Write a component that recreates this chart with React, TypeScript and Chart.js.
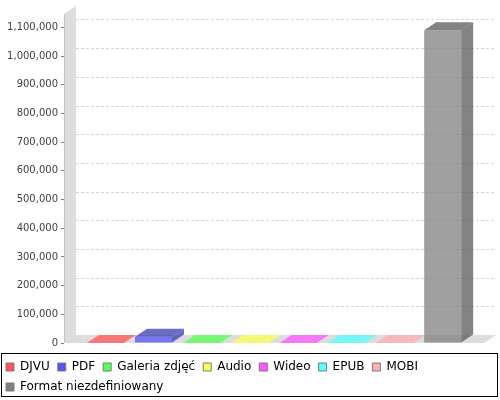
import React, { useEffect, useRef } from "react";
import { Chart, registerables } from "chart.js";

Chart.register(...registerables);

const seriesNames = [
  "DJVU",
  "PDF",
  "Galeria zdjęć",
  "Audio",
  "Wideo",
  "EPUB",
  "MOBI",
  "Format niezdefiniowany",
];
const seriesValues = [0, 22000, 0, 0, 0, 0, 0, 1090000];
const seriesColors = [
  "#FF5555",
  "#5555FF",
  "#55FF55",
  "#FFFF55",
  "#FF55FF",
  "#55FFFF",
  "#FFAFAF",
  "#808080",
];
const yTickValues = [0, 100000, 200000, 300000, 400000, 500000, 600000, 700000, 800000, 900000, 1000000, 1100000];
const yMin = 0;
const yMax = 1147000;

const DX = 12;
const DY = 8;
const ALPHA = 0.75;

function rgb(hex: string): [number, number, number] {
  const h = hex.replace("#", "");
  return [parseInt(h.slice(0, 2), 16), parseInt(h.slice(2, 4), 16), parseInt(h.slice(4, 6), 16)];
}
function rgba(c: [number, number, number], a: number) {
  return `rgba(${c[0]},${c[1]},${c[2]},${a})`;
}
function darker(c: [number, number, number]): [number, number, number] {
  return [Math.floor(c[0] * 0.7), Math.floor(c[1] * 0.7), Math.floor(c[2] * 0.7)];
}

function poly(ctx: CanvasRenderingContext2D, pts: number[][], fill: string) {
  ctx.beginPath();
  ctx.moveTo(pts[0][0], pts[0][1]);
  for (let i = 1; i < pts.length; i++) ctx.lineTo(pts[i][0], pts[i][1]);
  ctx.closePath();
  ctx.fillStyle = fill;
  ctx.fill();
}

const threeD = {
  id: "threeD",
  beforeDraw(chart: any) {
    const { ctx, width, height } = chart;
    ctx.save();
    ctx.fillStyle = "#ffffff";
    ctx.fillRect(0, 0, width, height);
    ctx.restore();
  },
  beforeDatasetsDraw(chart: any) {
    const { ctx, chartArea: a, scales } = chart;
    const y = scales.y;
    ctx.save();
    // back gridlines
    ctx.strokeStyle = "#d4d4d4";
    ctx.lineWidth = 1;
    ctx.setLineDash([3, 2]);
    y.ticks.forEach((t: any) => {
      if (t.value === 0) return;
      const py = Math.round(y.getPixelForValue(t.value)) - DY + 0.5;
      ctx.beginPath();
      ctx.moveTo(a.left + DX, py);
      ctx.lineTo(a.right + DX, py);
      ctx.stroke();
    });
    ctx.setLineDash([]);
    // wall
    poly(
      ctx,
      [
        [a.left, a.top],
        [a.left + DX, a.top - DY],
        [a.left + DX, a.bottom - DY],
        [a.left, a.bottom],
      ],
      "#dddddd"
    );
    ctx.strokeStyle = "#c4c4c4";
    ctx.beginPath();
    ctx.moveTo(a.left + 0.5, a.top);
    ctx.lineTo(a.left + 0.5, a.bottom);
    ctx.stroke();
    // floor
    poly(
      ctx,
      [
        [a.left, a.bottom],
        [a.right, a.bottom],
        [a.right + DX, a.bottom - DY],
        [a.left + DX, a.bottom - DY],
      ],
      "#dcdcdc"
    );
    ctx.restore();
  },
  afterDatasetsDraw(chart: any) {
    const { ctx } = chart;
    ctx.save();
    chart.data.datasets.forEach((ds: any, i: number) => {
      const meta = chart.getDatasetMeta(i);
      const c = rgb(seriesColors[i]);
      const face = rgba(c, ALPHA);
      const dark = rgba(darker(c), ALPHA);
      meta.data.forEach((el: any) => {
        const x = el.x;
        const top = el.y;
        const base = el.base;
        const w = el.width;
        const l = x - w / 2;
        const r = x + w / 2;
        const flat = Math.abs(base - top) < 1;
        if (!flat) {
          poly(
            ctx,
            [
              [r, top],
              [r + DX, top - DY],
              [r + DX, base - DY],
              [r, base],
            ],
            dark
          );
        }
        poly(
          ctx,
          [
            [l, top],
            [l + DX, top - DY],
            [r + DX, top - DY],
            [r, top],
          ],
          flat ? face : dark
        );
      });
    });
    ctx.restore();
  },
  afterDraw(chart: any) {
    const { ctx } = chart;
    const lg = chart.legend;
    if (!lg) return;
    ctx.save();
    ctx.strokeStyle = "#000000";
    ctx.lineWidth = 1;
    ctx.strokeRect(1.5, lg.top + 0.5, 496, 43);
    ctx.restore();
  },
};

export default function App() {
  const ref = useRef<HTMLCanvasElement | null>(null);
  useEffect(() => {
    document.body.style.margin = "0";
    if (!ref.current) return;
    const chart = new Chart(ref.current, {
      type: "bar",
      data: {
        labels: [""],
        datasets: seriesNames.map((name, i) => ({
          label: name,
          data: [seriesValues[i]],
          backgroundColor: rgba(rgb(seriesColors[i]), ALPHA),
          borderWidth: 0,
          categoryPercentage: 0.918,
          barPercentage: 0.768,
        })),
      },
      options: {
        responsive: false,
        animation: false,
        events: [],
        layout: { padding: { top: 14, left: -2, right: 16, bottom: -3 } },
        scales: {
          x: {
            type: "category",
            display: true,
            grid: { display: false },
            border: { display: false },
            ticks: { display: false },
            afterFit: (s: any) => {
              s.height = 10;
            },
          },
          y: {
            min: yMin,
            max: yMax,
            border: { display: false },
            grid: {
              display: true,
              drawOnChartArea: false,
              drawTicks: true,
              tickLength: 3,
              tickColor: "#808080",
            },
            afterBuildTicks: (s: any) => {
              s.ticks = yTickValues.map((v) => ({ value: v }));
            },
            ticks: {
              padding: 3,
              color: "#404040",
              font: { family: "DejaVu Sans", size: 10 },
              callback: (v: any) => Number(v).toLocaleString("en-US"),
            },
            afterFit: (s: any) => {
              s.width = 66;
            },
          },
        },
        plugins: {
          tooltip: { enabled: false },
          legend: {
            display: true,
            position: "bottom",
            align: "start",
            labels: {
              boxWidth: 8,
              boxHeight: 8,
              padding: 8,
              color: "#000000",
              font: { family: "DejaVu Sans", size: 12 },
              generateLabels: (ch: any) =>
                ch.data.datasets.map((ds: any, i: number) => ({
                  text: ds.label,
                  fillStyle: seriesColors[i],
                  strokeStyle: "#7a7a7a",
                  lineWidth: 1,
                  hidden: false,
                  datasetIndex: i,
                  fontColor: "#000000",
                })),
            },
          },
        },
      },
      plugins: [threeD],
    });
    return () => chart.destroy();
  }, []);
  return (
    <div style={{ width: 500, height: 400 }}>
      <canvas ref={ref} width={500} height={400} />
    </div>
  );
}
